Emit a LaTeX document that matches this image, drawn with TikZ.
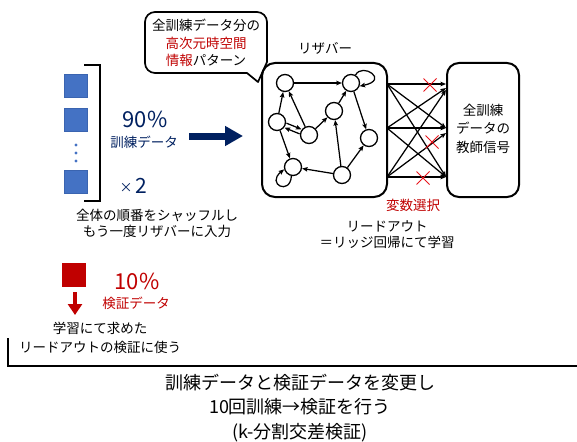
\documentclass[tikz,border=0pt]{standalone}
\usepackage{fontspec}
\setmainfont{Noto Sans CJK JP}
\usetikzlibrary{arrows.meta,shapes.misc}
\definecolor{navy}{HTML}{002060}
\definecolor{darkred}{HTML}{C00000}
\definecolor{sqblue}{HTML}{4472C4}
\definecolor{sqborder}{HTML}{3A64B0}
\definecolor{crossred}{HTML}{E8141C}
\begin{document}
\begin{tikzpicture}[x=1pt,y=1pt,
  txt/.style={font=\fontsize{13.5}{17}\selectfont, inner sep=0pt, align=center},
  bigtxt/.style={font=\fontsize{22}{24}\selectfont, inner sep=0pt},
  bottomtxt/.style={font=\fontsize{18}{24.5}\selectfont, inner sep=0pt, align=center},
  neuron/.style={circle, draw, line width=1.3pt, minimum size=17pt, inner sep=0pt, fill=white},
  arr/.style={line width=1.25pt, -{Stealth[length=5.5pt,width=4.5pt,inset=1pt]}},
  bigbox/.style={draw, line width=2pt, rounded corners=13pt, inner sep=0pt},
  sq/.style={draw=sqborder, fill=sqblue, line width=0.6pt, minimum size=23pt, inner sep=0pt},
  xmark/.style={draw=crossred, cross out, minimum size=12pt, line width=1pt, inner sep=0pt},
  bracket/.style={line width=2pt},
]
\useasboundingbox (0,0) rectangle (577,-441);

% speech bubble
\draw[line width=1.7pt, fill=white, line join=round]
  (155,-12) -- (257,-12) arc[start angle=90,end angle=0,radius=10pt]
  -- (267,-62) -- (258,-82) -- (247,-73) -- (155,-73)
  arc[start angle=270,end angle=180,radius=10pt] -- (145,-22)
  arc[start angle=180,end angle=90,radius=10pt] -- cycle;
\node[txt, font=\fontsize{13.5}{17.5}\selectfont] (bubble) at (206,-43)
  {全訓練データ分の\\\textcolor{darkred}{高次元時空間}\\\textcolor{darkred}{情報}パターン};

% training data squares
\node[sq] (sq1) at (75.5,-85.5) {};
\node[sq] (sq2) at (75.5,-119.5) {};
\node[sq] (sq3) at (75.5,-181.5) {};
\fill[sqblue] (76,-145) circle (1.7pt) (76,-153) circle (1.7pt) (76,-161) circle (1.7pt);
\draw[bracket] (84,-65) -- (100,-65) -- (100,-201) -- (84,-201);

\node[bigtxt, text=navy] (p90) at (145,-119) {90\%};
\node[txt, text=navy] (train) at (144,-142) {訓練データ};
\node[inner sep=0pt, text=navy, font=\fontsize{13}{14}\selectfont] (times) at (126,-188) {×};
\node[bigtxt, text=navy, font=\fontsize{21}{24}\selectfont] (two) at (141,-186) {2};
\node[txt, font=\fontsize{13.5}{16}\selectfont] (shuffle) at (157,-223) {全体の順番をシャッフルし\\もう一度リザバーに入力};

\coordinate (bigS) at (189,-136);
\coordinate (bigE) at (243,-136);
\draw[navy, line width=7pt, -{Triangle[length=18pt,width=19pt]}] (bigS) -- (bigE);

% reservoir
\node[txt] (reslabel) at (325,-48) {リザバー};
\node[bigbox, minimum width=125pt, minimum height=134pt] (res) at (324.5,-130) {};
\node[neuron] (A) at (285,-83) {};
\node[neuron] (B) at (351,-83) {};
\node[neuron] (C) at (334,-111) {};
\node[neuron] (D) at (277,-122) {};
\node[neuron] (E) at (309,-135) {};
\node[neuron] (F) at (369,-138) {};
\node[neuron] (G) at (293,-167) {};
\node[neuron] (H) at (342,-175) {};
\draw[arr] (A) -- (B);
\draw[arr] (D) -- (A);
\draw[arr] (E) -- (A);
\draw[arr, transform canvas={shift={(0.94,2.3)}}] (D) -- (E);
\draw[arr, transform canvas={shift={(-0.94,-2.3)}}] (E) -- (D);
\draw[arr] (E) -- (C);
\draw[arr] (C) -- (B);
\draw[arr] (B) -- (F);
\draw[arr] (D) -- (G);
\draw[arr] (H) -- (G);
\draw[arr] (H) -- (C);
\draw[arr] (H) -- (F);
\draw[arr] (B.60) .. controls (362,-62) and (390,-80) .. (B.-20);
\draw[arr] (G.-100) .. controls (290,-196) and (266,-184) .. (G.195);

% output box
\node[bigbox, minimum width=72pt, minimum height=134pt, rounded corners=12pt] (out) at (483,-130) {};
\node[txt, font=\fontsize{13.5}{18.5}\selectfont] (outtxt) at (483,-128.5) {全訓練\\データの\\教師信号};

% readout connections
\coordinate (S1) at (387,-84);
\coordinate (S2) at (387,-128);
\coordinate (S3) at (387,-177);
\coordinate (T1a) at (446,-84);
\coordinate (T1b) at (446,-88);
\coordinate (T1c) at (446,-90);
\coordinate (T2a) at (446,-128);
\coordinate (T2b) at (446,-133);
\coordinate (T3a) at (446,-177);
\draw[arr] (S1) -- (T1a);
\draw[arr] (S2) -- (T1b);
\draw[arr] (S3) -- (T1c);
\draw[arr] (S1) -- (T2a);
\draw[arr] (S2) -- (T2a);
\draw[arr] (S3) -- (T2b);
\draw[arr] (S1) -- (T3a);
\draw[arr] (S2) -- (T3a);
\draw[arr] (S3) -- (T3a);
\node[xmark] (x1) at (430,-85) {};
\node[xmark] (x2) at (432,-142) {};
\node[xmark] (x3) at (423,-178) {};

\node[txt, text=darkred] (varsel) at (413,-205) {変数選択};
\node[txt, font=\fontsize{13.5}{16}\selectfont] (readout) at (387,-235) {リードアウト\\＝リッジ回帰にて学習};

% validation data
\node[draw=darkred, fill=darkred, minimum size=23pt, inner sep=0pt] (rsq) at (73.5,-274.5) {};
\coordinate (rS) at (75,-292);
\coordinate (rE) at (75,-315);
\draw[darkred, line width=3.5pt, -{Triangle[length=11pt,width=14pt]}] (rS) -- (rE);
\node[bigtxt, text=darkred] (p10) at (137,-281) {10\%};
\node[txt, text=darkred] (valid) at (136,-303) {検証データ};
\node[txt, font=\fontsize{13.5}{19}\selectfont] (usetxt) at (100,-337.5) {学習にて求めた\\リードアウトの検証に使う};

% bottom bracket
\draw[bracket] (8,-338) -- (8,-366) -- (577,-366);
\node[bottomtxt] (summary) at (300,-408) {訓練データと検証データを変更し\\10回訓練→検証を行う\\(k-分割交差検証)};
\end{tikzpicture}
\end{document}
